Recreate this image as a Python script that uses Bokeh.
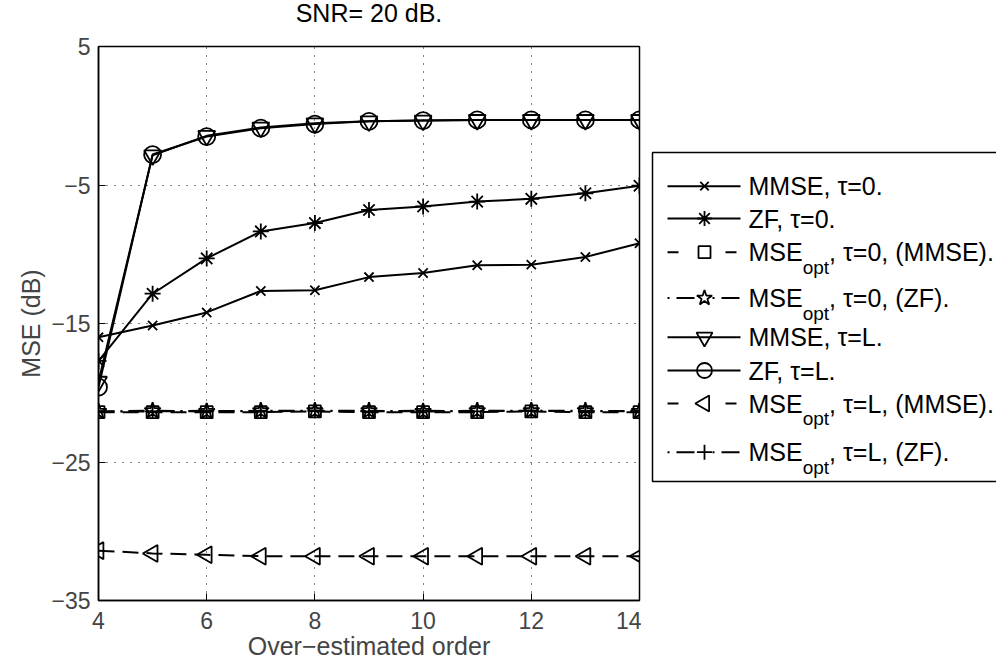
from bokeh.plotting import figure
from bokeh.models import Range1d, FixedTicker
from bokeh.layouts import row, column
from bokeh.core.properties import value
from bokeh.embed import file_html
from bokeh.resources import INLINE

# ---------------- data ----------------
orders = [4, 5, 6, 7, 8, 9, 10, 11, 12, 13, 14]
mmse_tau0 = [-16.0, -15.15, -14.2, -12.65, -12.6, -11.65, -11.35, -10.8, -10.75, -10.2, -9.2]
zf_tau0 = [-17.7, -12.85, -10.3, -8.35, -7.75, -6.8, -6.55, -6.2, -6.0, -5.6, -5.05]
mseopt_tau0_mmse = [-21.4, -21.4, -21.4, -21.4, -21.35, -21.4, -21.4, -21.4, -21.35, -21.4, -21.4]
mseopt_tau0_zf = [-21.35, -21.3, -21.35, -21.3, -21.3, -21.3, -21.35, -21.3, -21.3, -21.3, -21.35]
mmse_tauL = [-19.2, -2.85, -1.45, -0.85, -0.55, -0.4, -0.35, -0.3, -0.3, -0.3, -0.3]
zf_tauL = [-19.6, -2.8, -1.5, -0.9, -0.6, -0.4, -0.35, -0.3, -0.3, -0.3, -0.3]
mseopt_tauL_mmse = [-31.4, -31.6, -31.7, -31.8, -31.8, -31.8, -31.8, -31.8, -31.8, -31.8, -31.8]
mseopt_tauL_zf = [-21.35, -21.35, -21.3, -21.35, -21.3, -21.35, -21.3, -21.35, -21.3, -21.35, -21.3]

x_ticks = [4, 6, 8, 10, 12, 14]
y_ticks = [-35, -25, -15, -5, 5]
y_tick_labels = ["\u221235", "\u221225", "\u221215", "\u22125", "5"]

title_text = "SNR= 20 dB."
x_label = "Over\u2212estimated order"
y_label = "MSE (dB)"

# legend texts: (main part, subscript, rest)
legend_texts = [
    ("MMSE, \u03c4=0.", "", ""),
    ("ZF, \u03c4=0.", "", ""),
    ("MSE", "opt", ", \u03c4=0, (MMSE)."),
    ("MSE", "opt", ", \u03c4=0, (ZF)."),
    ("MMSE, \u03c4=L.", "", ""),
    ("ZF, \u03c4=L.", "", ""),
    ("MSE", "opt", ", \u03c4=L, (MMSE)."),
    ("MSE", "opt", ", \u03c4=L, (ZF)."),
]

FONT = "Liberation Sans"
FS = "25px"
TICK_FS = "23px"

W = 996
TH = 32                      # height of the title strip
FL, FW, FH = 98, 541, 554    # frame left, width, height
FT = 14                      # plot border above frame (frame top on page = TH + FT = 46)
FB = 65
PW = FL + FW + 2             # width of the plot figure
LW2 = W - PW                 # width of the legend strip

# ---------------- title strip ----------------
tfig = figure(
    frame_width=FW, frame_height=TH,
    min_border_left=FL, min_border_right=W - FL - FW, min_border_top=0, min_border_bottom=0,
    x_range=Range1d(FL, FL + FW), y_range=Range1d(TH, 0),
    x_axis_type=None, y_axis_type=None,
    output_backend="svg", toolbar_location=None,
)
tfig.outline_line_color = None
tfig.grid.visible = False
tfig.text([FL + FW / 2], [12], text=[title_text], text_font=value(FONT), text_font_size=FS,
          text_align="center", text_baseline="middle", text_color="black")

# ---------------- main plot ----------------
p = figure(
    frame_width=FW, frame_height=FH,
    min_border_left=FL, min_border_right=2,
    min_border_top=FT, min_border_bottom=FB,
    x_range=Range1d(4, 14), y_range=Range1d(-35, 5),
    output_backend="svg", toolbar_location=None,
)
p.background_fill_color = "white"
p.border_fill_color = "white"
p.outline_line_color = "black"
p.outline_line_width = 1.5

p.xaxis.ticker = FixedTicker(ticks=x_ticks)
p.yaxis.ticker = FixedTicker(ticks=y_ticks)
p.yaxis.major_label_overrides = {t: l for t, l in zip(y_ticks, y_tick_labels)}
p.xaxis.axis_label = x_label
p.yaxis.axis_label = y_label
for ax in (p.xaxis, p.yaxis):
    ax.major_label_text_font = FONT
    ax.major_label_text_font_size = TICK_FS
    ax.axis_label_text_font = FONT
    ax.axis_label_text_font_size = FS
    ax.axis_label_text_font_style = "normal"
    ax.major_tick_in = 7
    ax.major_tick_out = 0
    ax.minor_tick_line_color = None
    ax.axis_line_color = "black"
    ax.axis_line_width = 1.5
    ax.major_tick_line_color = "black"
p.xaxis.major_label_standoff = 11
p.yaxis.major_label_standoff = 8
p.xaxis.axis_label_standoff = 0
p.yaxis.axis_label_standoff = 3

p.grid.grid_line_color = "black"
p.grid.grid_line_dash = "1 7"
p.grid.grid_line_width = 1
p.xgrid.ticker = FixedTicker(ticks=x_ticks)
p.ygrid.ticker = FixedTicker(ticks=y_ticks)

LW = 2
DASH = "16 8"
DASHDOT = "16 6 2 6"
LEG_DASH = "11 47"
LEG_DASHDOT = "2 7 18 18"
# (values, plot dash, legend dash, marker, plot size, angle, legend size)
series = [
    (mmse_tau0, "solid", "solid", "x", 13, 0, 12),
    (zf_tau0, "solid", "solid", "asterisk", 16, 0, 15),
    (mseopt_tau0_mmse, DASH, LEG_DASH, "square", 12, 0, 12),
    (mseopt_tau0_zf, DASHDOT, LEG_DASHDOT, "star", 17, 0, 16),
    (mmse_tauL, "solid", "solid", "inverted_triangle", 17, 0, 16),
    (zf_tauL, "solid", "solid", "circle", 17, 0, 15),
    (mseopt_tauL_mmse, DASH, LEG_DASH, "triangle", 17, 1.5708, 16),
    (mseopt_tauL_zf, DASHDOT, LEG_DASHDOT, "cross", 15, 0, 15),
]

for ys, dash, _, marker, size, ang, _ in series:
    p.line(orders, ys, line_color="black", line_width=LW, line_dash=dash)
    p.scatter(orders, ys, marker=marker, size=size, angle=ang,
              line_color="black", line_width=1.8, fill_alpha=0)

# ---------------- legend strip (pixel coordinates of the page) ----------------
leg = figure(
    frame_width=LW2, frame_height=FH,
    min_border_left=0, min_border_right=0, min_border_top=FT, min_border_bottom=FB,
    x_range=Range1d(PW, W), y_range=Range1d(TH + FT + FH, TH + FT),
    x_axis_type=None, y_axis_type=None,
    output_backend="svg", toolbar_location=None,
)
leg.outline_line_color = None
leg.grid.visible = False
leg.background_fill_color = "white"
leg.border_fill_color = "white"

leg.quad(left=[652], right=[W + 40], top=[152], bottom=[481],
         fill_color="white", line_color="black", line_width=1.5)

row_y = [185.7, 218.0, 251.7, 297.5, 336.7, 370.0, 403.0, 451.7]
line_x0, line_x1 = 667, 740
mark_x = 704
text_x = 748
MSE_W = 2.167 * 25          # width of "MSE" at 25px (Arial metrics)
SUB_FS = 19
SUB_W = 1.39 * SUB_FS       # width of "opt"

for (ys, _, ldash, marker, size, ang, lsize), (main, sub, rest), yy in zip(series, legend_texts, row_y):
    leg.line([line_x0, line_x1], [yy, yy], line_color="black", line_width=LW, line_dash=ldash)
    leg.scatter([mark_x], [yy], marker=marker, size=lsize, angle=ang,
                line_color="black", line_width=1.8, fill_alpha=0)
    leg.text([text_x], [yy], text=[main], text_font=value(FONT), text_font_size=FS,
             text_baseline="middle", text_align="left", text_color="black")
    if sub:
        leg.text([text_x + MSE_W], [yy + 15], text=[sub], text_font=value(FONT),
                 text_font_size=f"{SUB_FS}px", text_baseline="middle", text_align="left",
                 text_color="black")
        leg.text([text_x + MSE_W + SUB_W], [yy], text=[rest], text_font=value(FONT),
                 text_font_size=FS, text_baseline="middle", text_align="left",
                 text_color="black")

layout = column(tfig, row(p, leg, spacing=0), spacing=0)
open("out.html", "w").write(file_html(layout, INLINE))
